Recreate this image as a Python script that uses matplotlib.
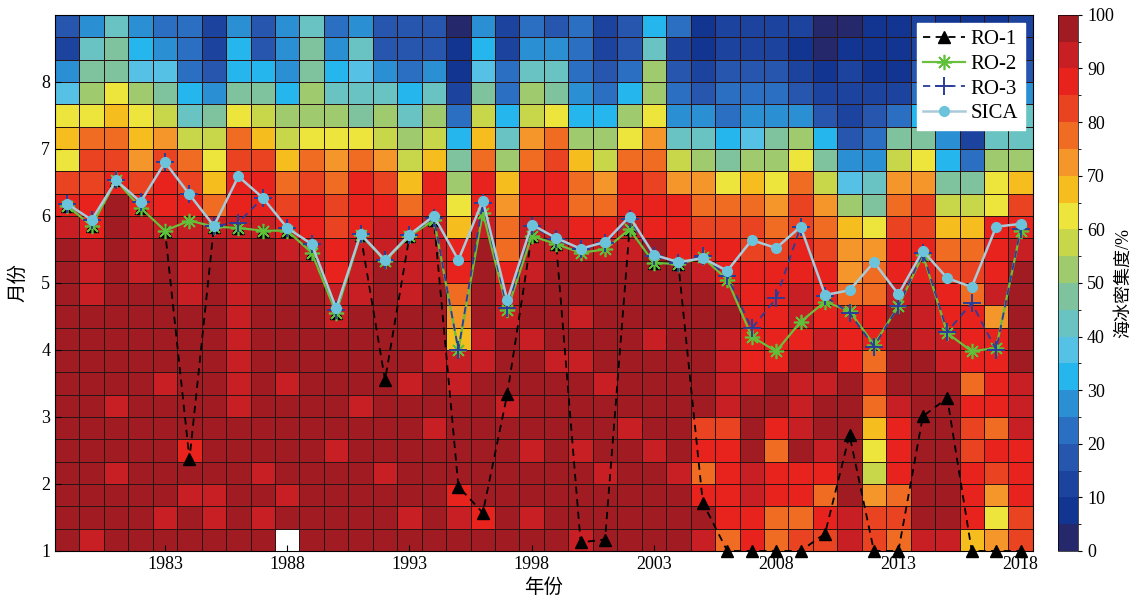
import numpy as np
import matplotlib
matplotlib.use('Agg')
from matplotlib import pyplot as plt
from matplotlib.colors import ListedColormap, BoundaryNorm

plt.rcParams['font.family'] = ['Liberation Serif', 'Noto Sans CJK SC']

years = list(range(1979, 2019))
xtick_years = [1983, 1988, 1993, 1998, 2003, 2008, 2013, 2018]
month_ticks = [1, 2, 3, 4, 5, 6, 7, 8]

# sea ice concentration (%) for each year, 24 ten-day rows,
# listed from the top row (late Aug) down to the bottom row (early Jan)
nan = float('nan')
sic = [
    [15, 12, 25, 38, 62, 68, 62, 82, 87, 90, 97, 97, 97, 97, 97, 97, 97, 97, 97, 97, 97, 97, 97, 97],  # 1979
    [27, 40, 47, 52, 62, 77, 82, 82, 87, 88, 92, 92, 92, 97, 97, 97, 97, 97, 97, 97, 97, 97, 97, 92],  # 1980
    [40, 45, 47, 62, 67, 77, 82, 87, 97, 97, 97, 97, 97, 97, 97, 97, 97, 92, 97, 97, 92, 97, 97, 97],  # 1981
    [27, 32, 38, 50, 62, 68, 73, 80, 87, 90, 92, 92, 97, 97, 97, 97, 97, 97, 97, 97, 97, 97, 97, 97],  # 1982
    [20, 25, 37, 47, 57, 72, 82, 87, 88, 90, 97, 97, 97, 97, 97, 97, 92, 97, 97, 97, 97, 97, 92, 97],  # 1983
    [20, 20, 22, 33, 42, 57, 77, 82, 87, 90, 92, 92, 92, 97, 97, 97, 97, 97, 97, 87, 97, 92, 97, 97],  # 1984
    [10, 12, 15, 27, 45, 57, 62, 68, 75, 90, 97, 97, 97, 97, 97, 97, 97, 97, 97, 97, 97, 92, 92, 97],  # 1985
    [27, 32, 33, 47, 62, 77, 82, 87, 88, 90, 92, 92, 92, 92, 92, 92, 92, 92, 97, 97, 97, 97, 97, 97],  # 1986
    [17, 15, 32, 45, 57, 67, 80, 85, 87, 90, 97, 97, 97, 97, 97, 97, 97, 97, 97, 97, 92, 97, 92, 97],  # 1987
    [25, 27, 27, 32, 50, 57, 68, 77, 82, 87, 92, 97, 97, 97, 97, 97, 92, 97, 97, 97, 97, 92, 97, nan],  # 1988
    [40, 45, 47, 50, 52, 62, 77, 82, 87, 88, 90, 92, 97, 97, 97, 97, 97, 97, 97, 97, 97, 97, 97, 97],  # 1989
    [20, 25, 32, 42, 50, 62, 72, 77, 82, 82, 85, 87, 90, 92, 97, 97, 97, 97, 97, 92, 97, 97, 97, 97],  # 1990
    [27, 40, 38, 42, 47, 62, 77, 85, 87, 87, 90, 92, 92, 97, 97, 97, 97, 92, 97, 97, 97, 97, 97, 97],  # 1991
    [15, 15, 25, 40, 50, 57, 72, 82, 87, 90, 92, 97, 97, 97, 97, 97, 97, 97, 97, 97, 92, 97, 97, 97],  # 1992
    [15, 17, 22, 32, 42, 52, 57, 67, 78, 85, 90, 92, 92, 97, 97, 97, 92, 97, 97, 97, 97, 97, 92, 97],  # 1993
    [17, 15, 25, 40, 52, 57, 67, 85, 87, 90, 90, 92, 97, 97, 97, 92, 97, 97, 92, 97, 97, 97, 97, 97],  # 1994
    [3, 5, 8, 10, 20, 32, 45, 52, 62, 67, 85, 85, 75, 70, 68, 92, 92, 97, 97, 97, 97, 88, 92, 97],     # 1995
    [27, 32, 37, 45, 57, 67, 77, 87, 88, 90, 97, 97, 97, 97, 92, 92, 97, 97, 97, 97, 97, 97, 88, 97],  # 1996
    [12, 10, 20, 22, 32, 40, 52, 67, 72, 75, 78, 85, 90, 92, 97, 97, 97, 92, 97, 97, 97, 97, 97, 97],  # 1997
    [22, 27, 40, 50, 55, 72, 77, 87, 87, 90, 92, 92, 97, 97, 92, 97, 97, 97, 97, 92, 97, 97, 92, 97],  # 1998
    [15, 27, 42, 47, 62, 77, 80, 85, 87, 90, 92, 97, 97, 97, 97, 92, 97, 97, 97, 97, 97, 97, 97, 97],  # 1999
    [20, 20, 22, 27, 32, 52, 67, 77, 78, 87, 92, 97, 97, 92, 97, 92, 97, 97, 97, 92, 97, 97, 97, 92],  # 2000
    [10, 12, 17, 22, 33, 50, 57, 72, 77, 85, 90, 97, 97, 97, 97, 97, 92, 97, 97, 97, 92, 97, 97, 97],  # 2001
    [17, 15, 22, 32, 52, 62, 77, 85, 87, 90, 92, 97, 97, 97, 97, 97, 97, 97, 92, 97, 97, 97, 97, 97],  # 2002
    [32, 42, 50, 52, 62, 72, 77, 82, 85, 88, 97, 97, 97, 97, 92, 97, 97, 97, 97, 92, 97, 97, 97, 97],  # 2003
    [20, 12, 15, 22, 27, 40, 57, 72, 85, 85, 87, 97, 97, 97, 97, 97, 97, 97, 97, 97, 92, 97, 97, 97],  # 2004
    [5, 8, 10, 15, 27, 40, 52, 72, 77, 82, 85, 90, 97, 97, 97, 97, 97, 97, 82, 87, 77, 87, 97, 92],    # 2005
    [10, 10, 17, 20, 22, 33, 47, 62, 75, 82, 85, 87, 92, 97, 90, 90, 90, 90, 82, 88, 88, 87, 87, 77],  # 2006
    [12, 10, 17, 20, 27, 37, 52, 67, 78, 82, 82, 85, 85, 87, 87, 87, 90, 95, 95, 95, 92, 90, 88, 85],  # 2007
    [12, 12, 15, 22, 27, 45, 50, 62, 72, 78, 82, 87, 88, 87, 87, 87, 97, 97, 88, 78, 85, 87, 75, 75],  # 2008
    [10, 8, 12, 17, 25, 50, 62, 77, 80, 80, 85, 87, 92, 90, 88, 97, 90, 90, 92, 97, 87, 87, 75, 82],   # 2009
    [3, 3, 5, 12, 17, 32, 47, 57, 72, 77, 80, 85, 87, 87, 92, 97, 90, 97, 97, 92, 88, 75, 85, 82],     # 2010
    [3, 5, 10, 10, 12, 17, 27, 38, 52, 67, 72, 73, 78, 87, 85, 88, 97, 97, 97, 97, 97, 97, 92, 92],    # 2011
    [8, 8, 5, 10, 15, 22, 27, 40, 45, 62, 72, 78, 75, 87, 85, 75, 80, 75, 68, 62, 57, 72, 80, 82],     # 2012
    [5, 5, 8, 12, 22, 45, 57, 72, 77, 82, 85, 87, 90, 97, 97, 97, 97, 90, 88, 88, 87, 78, 82, 75],     # 2013
    [10, 12, 15, 20, 32, 45, 62, 70, 82, 80, 85, 87, 90, 92, 92, 97, 97, 97, 97, 97, 97, 97, 97, 92],  # 2014
    [8, 10, 12, 15, 20, 25, 33, 45, 57, 68, 78, 82, 85, 87, 90, 92, 97, 97, 97, 97, 97, 97, 97, 92],   # 2015
    [8, 10, 12, 15, 18, 12, 22, 45, 57, 68, 75, 80, 78, 85, 88, 88, 75, 87, 80, 82, 88, 88, 85, 68],   # 2016
    [8, 10, 12, 20, 30, 40, 50, 62, 62, 85, 87, 87, 90, 72, 85, 87, 85, 85, 78, 85, 80, 72, 62, 72],   # 2017
    [10, 12, 17, 25, 40, 42, 52, 67, 80, 85, 90, 97, 97, 97, 97, 97, 92, 92, 90, 88, 88, 88, 82, 80],  # 2018
]

# ice-free onset (month) for each method
ro1 = [6.15, 5.85, 6.53, 6.12, 5.78, 2.37, 5.84, 5.82, 5.78, 5.78, 5.45, 4.55, 5.72, 3.55, 5.70,
       5.94, 1.96, 1.57, 3.34, 5.70, 5.58, 1.13, 1.17, 5.80, 5.30, 5.28, 1.72, 1.00, 1.00, 1.00,
       1.00, 1.26, 2.73, 1.00, 1.00, 3.01, 3.28, 1.00, 1.00, 1.00]
ro2 = [6.15, 5.85, 6.53, 6.12, 5.78, 5.93, 5.84, 5.82, 5.78, 5.78, 5.45, 4.55, 5.72, 5.33, 5.70,
       5.94, 4.00, 6.05, 4.60, 5.70, 5.58, 5.45, 5.50, 5.80, 5.30, 5.28, 5.38, 5.05, 4.20, 3.98,
       4.42, 4.72, 4.58, 4.08, 4.65, 5.42, 4.25, 3.98, 4.03, 5.78]
ro3 = [6.18, 5.94, 6.53, 6.21, 6.80, 6.32, 5.85, 5.90, 6.27, 5.82, 5.58, 4.60, 5.73, 5.34, 5.72,
       5.97, 4.00, 6.20, 4.62, 5.85, 5.65, 5.50, 5.60, 5.95, 5.40, 5.30, 5.40, 5.10, 4.32, 4.77,
       5.84, 4.80, 4.55, 4.05, 4.65, 5.45, 4.27, 4.70, 4.00, 5.80]
sica = [6.18, 5.94, 6.53, 6.21, 6.80, 6.32, 5.85, 6.59, 6.27, 5.82, 5.58, 4.62, 5.73, 5.34, 5.72,
        6.00, 5.34, 6.23, 4.74, 5.87, 5.67, 5.51, 5.61, 5.99, 5.42, 5.31, 5.37, 5.18, 5.64, 5.52,
        5.84, 4.82, 4.89, 5.31, 4.83, 5.48, 5.07, 4.94, 5.84, 5.88]

level_colors = ['#25296b', '#123592', '#1c449f', '#2656ad', '#2a6fc2', '#2b8fd4', '#25b6ee',
                '#55c1e4', '#6ac3c3', '#7fc29e', '#9fca6e', '#c8d64a', '#ede43c', '#f5be1e',
                '#f5962a', '#ef6c22', '#ea4322', '#e8221c', '#c81f24', '#a01c22']
cmap = ListedColormap(level_colors)
norm = BoundaryNorm(np.arange(0, 101, 5), cmap.N)

grid = np.array(sic, dtype=float)[:, ::-1].T   # rows bottom->top, columns = years
grid = np.ma.masked_invalid(grid)
x_edges = np.arange(years[0] - 0.5, years[-1] + 1.5)
y_edges = 1 + np.arange(25) / 3

fig = plt.figure(figsize=(11.37, 6.12), dpi=100)
ax = fig.add_axes([0.0484, 0.0997, 0.860, 0.876])
cax = fig.add_axes([0.9305, 0.0997, 0.0176, 0.876])

mesh = ax.pcolormesh(x_edges, y_edges, grid, cmap=cmap, norm=norm,
                     edgecolors='#2a1414', linewidth=0.5)

ax.plot(years, ro1, color='k', ls='--', dashes=(4, 3), lw=1.3, marker='^', ms=8,
        mfc='k', mec='k', label='RO-1', clip_on=False, zorder=5)
ax.plot(years, ro2, color='#6cbf3c', lw=1.6, marker=(8, 2, 0), ms=11, mew=1.2,
        mec='#5fc13a', label='RO-2', zorder=6)
ax.plot(years, ro3, color='#2a3d9a', ls='--', dashes=(4, 3), lw=1.3, marker='+', ms=13,
        mew=1.4, label='RO-3', zorder=7)
ax.plot(years, sica, color='#a9cad8', lw=1.8, marker='o', ms=7, mfc='#6cc3dc',
        mec='#6cc3dc', label='SICA', zorder=8)

ax.set_xlim(years[0] - 0.5, years[-1] + 0.5)
ax.set_ylim(1, 9)
ax.set_xticks(xtick_years)
ax.set_yticks(month_ticks)
ax.tick_params(direction='in', length=4, labelsize=13)
ax.set_xlabel('年份', fontsize=14, labelpad=4)
ax.set_ylabel('月份', fontsize=14, labelpad=10)

leg = ax.legend(loc='upper right', fontsize=15, frameon=True, fancybox=False,
                framealpha=1, edgecolor='white', labelspacing=0.25, handlelength=2.0,
                handletextpad=0.3, borderpad=0.3, borderaxespad=0.4)
leg.set_zorder(10)

cbar = fig.colorbar(mesh, cax=cax, ticks=range(0, 101, 10))
cbar.ax.tick_params(labelsize=13, length=3)
cbar.outline.set_linewidth(0.5)
cbar.set_label('海冰密集度/%', fontsize=13, labelpad=1)

fig.savefig('out.png', dpi=100)
